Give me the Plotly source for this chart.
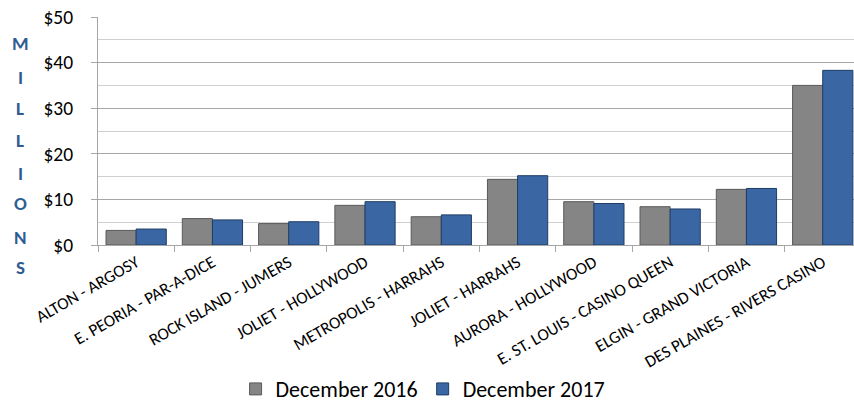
import plotly.graph_objects as go

categories = ["ALTON - ARGOSY", "E. PEORIA - PAR-A-DICE", "ROCK ISLAND - JUMERS",
              "JOLIET - HOLLYWOOD", "METROPOLIS - HARRAHS", "JOLIET - HARRAHS",
              "AURORA - HOLLYWOOD", "E. ST. LOUIS - CASINO QUEEN",
              "ELGIN - GRAND VICTORIA", "DES PLAINES - RIVERS CASINO"]
dec_2016 = [3.2, 5.8, 4.7, 8.7, 6.2, 14.4, 9.5, 8.4, 12.2, 35.0]
dec_2017 = [3.5, 5.5, 5.1, 9.5, 6.6, 15.2, 9.1, 7.9, 12.4, 38.3]
series_names = ["December 2016", "December 2017"]
y_tick_values = [0, 10, 20, 30, 40, 50]
y_tick_labels = ["$0", "$10", "$20", "$30", "$40", "$50"]
side_letters = list("MILLIONS")

FONT = "Calibri, Carlito, Lato, sans-serif"

fig = go.Figure()
fig.add_trace(go.Bar(x=categories, y=dec_2016, name=series_names[0],
                     marker=dict(color="#858585", line=dict(color="#5A5A5A", width=1))))
fig.add_trace(go.Bar(x=categories, y=dec_2017, name=series_names[1],
                     marker=dict(color="#3A67A3", line=dict(color="#1E3D66", width=1))))

plot_top, plot_bottom, plot_left, plot_w = 17, 245, 98, 756   # page pixels
letter_px = [43, 77, 108, 140, 173, 203, 237, 267]
for ch, py in zip(side_letters, letter_px):
    fig.add_annotation(text="<b>%s</b>" % ch, xref="paper", yref="paper",
                       x=(20 - plot_left) / plot_w, y=(plot_bottom - py) / (plot_bottom - plot_top),
                       xanchor="center", yanchor="middle", showarrow=False,
                       font=dict(family=FONT, size=19, color="#2F5D93"))

fig.update_layout(
    width=854, height=404,
    margin=dict(l=98, r=0, t=17, b=159, autoexpand=False),
    paper_bgcolor="white", plot_bgcolor="white",
    barmode="group", bargap=0.21, bargroupgap=0,
    font=dict(family=FONT, color="#000000"),
    showlegend=True,
    legend=dict(orientation="h", x=0.43, xanchor="center", y=-0.632, yanchor="middle",
                font=dict(family=FONT, size=22, color="#000000"),
                itemwidth=30, tracegroupgap=0),
)
fig.update_xaxes(
    type="category", range=[-0.5, 9.41], automargin=False,
    tickangle=-30, tickfont=dict(family=FONT, size=17, color="#000000"),
    showline=True, linecolor="#A6A6A6", linewidth=1,
    ticks="outside", tickson="boundaries", ticklen=6, tickcolor="#A6A6A6",
    showgrid=False,
)
fig.update_yaxes(
    range=[0, 50], tickvals=y_tick_values, ticktext=y_tick_labels, automargin=False,
    tickfont=dict(family=FONT, size=19.5, color="#000000"), ticklabeloverflow="allow",
    showline=True, linecolor="#A6A6A6", linewidth=1,
    ticks="outside", ticklen=6, tickcolor="#A6A6A6",
    showgrid=True, gridcolor="#A6A6A6", gridwidth=1,
    minor=dict(dtick=5, showgrid=True, gridcolor="#D0D0D0", ticks=""),
    zeroline=False, ticklabelstandoff=14,
)

fig.write_html("out.html", config={"displayModeBar": False},
               post_script="document.body.style.margin='0';document.body.style.overflow='hidden';")
